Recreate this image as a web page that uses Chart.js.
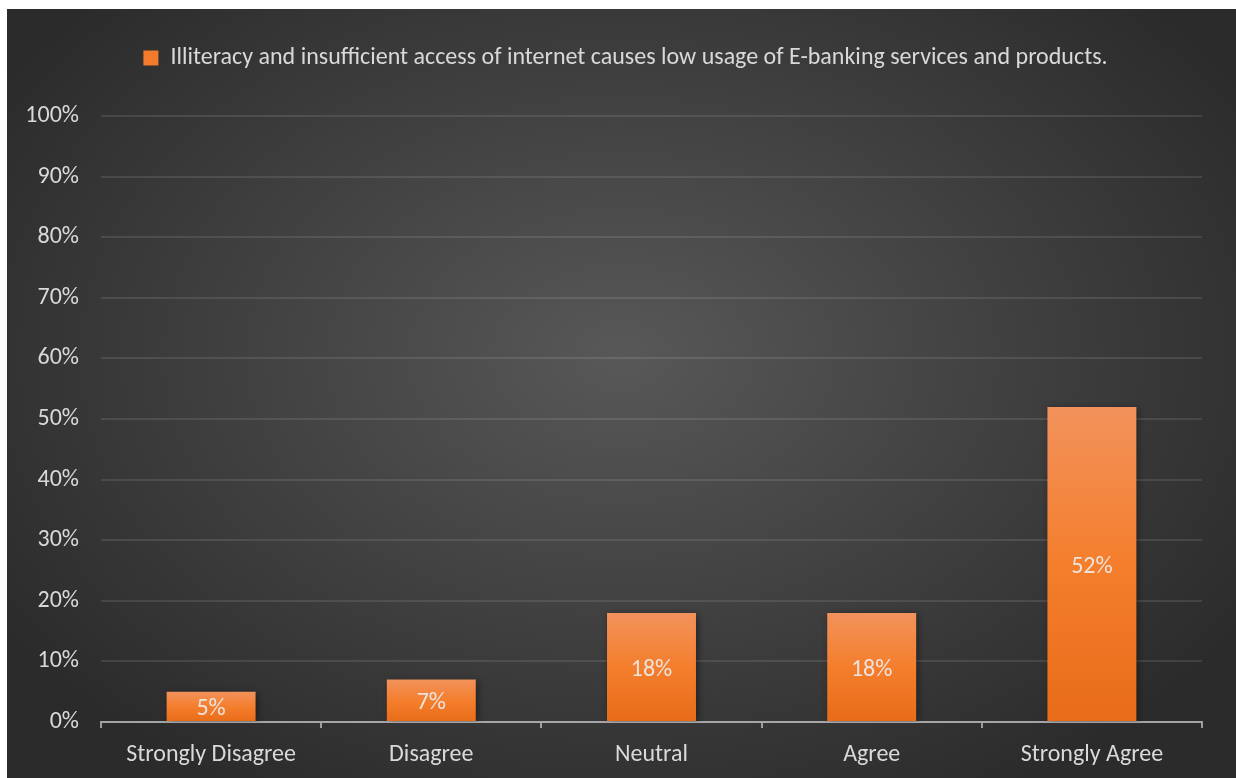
<!DOCTYPE html>
<html>
<head>
<meta charset="utf-8">
<script src="https://cdn.jsdelivr.net/npm/chart.js@4.4.0/dist/chart.umd.min.js"></script>
<style>
  html, body { margin: 0; padding: 0; background: #fff; }
  #caja {
    position: absolute; left: 7px; top: 9px; width: 1229px; height: 769px;
    background: radial-gradient(ellipse at 50% 45%, #585858 0%, #404040 45%, #2b2b2b 85%);
  }
</style>
</head>
<body>
<div id="caja"><canvas id="grafico"></canvas></div>
<script>
const categorias = ["Strongly Disagree", "Disagree", "Neutral", "Agree", "Strongly Agree"];
const valores = [5, 7, 18, 18, 52];
const serie = "Illiteracy and insufficient access of internet causes low usage of E-banking services and products.";

const fuente = "Carlito, Lato, 'Open Sans', sans-serif";
const gris = "#d9d9d9";

// degradado naranja por barra, claro arriba y oscuro abajo
function degradado(context) {
  const chart = context.chart;
  if (!chart.chartArea || context.type !== "data") return "#f27b2c";
  const y = chart.scales.y;
  const arriba = y.getPixelForValue(valores[context.dataIndex]);
  const abajo = y.getPixelForValue(0);
  const g = chart.ctx.createLinearGradient(0, arriba, 0, abajo);
  g.addColorStop(0, "#f2925c");
  g.addColorStop(0.5, "#f47e2c");
  g.addColorStop(1, "#e86c19");
  return g;
}

// sombra suave detras de las barras
const sombra = {
  id: "sombra",
  beforeDatasetDraw(chart) {
    const ctx = chart.ctx;
    ctx.save();
    ctx.shadowColor = "rgba(0,0,0,0.45)";
    ctx.shadowBlur = 7;
    ctx.shadowOffsetX = 2;
    ctx.shadowOffsetY = 1;
  },
  afterDatasetDraw(chart) {
    chart.ctx.restore();
  }
};

// porcentaje centrado dentro de cada barra
const etiquetas = {
  id: "etiquetas",
  afterDatasetsDraw(chart) {
    const ctx = chart.ctx;
    const meta = chart.getDatasetMeta(0);
    ctx.save();
    ctx.font = "24px " + fuente;
    ctx.fillStyle = "rgba(235,235,235,0.92)";
    ctx.textAlign = "center";
    ctx.textBaseline = "middle";
    meta.data.forEach((barra, i) => {
      ctx.fillText(valores[i] + "%", barra.x, (barra.y + barra.base) / 2 + 3);
    });
    ctx.restore();
  }
};

// leyenda: mas espacio debajo y un poco corrida a la derecha
const ajusteLeyenda = {
  id: "ajusteLeyenda",
  beforeInit(chart) {
    const fitOriginal = chart.legend.fit;
    chart.legend.fit = function () {
      fitOriginal.bind(chart.legend)();
      this.height += 36;
    };
  },
  afterLayout(chart) {
    chart.legend.left += 21;
    chart.legend.right += 21;
  }
};

new Chart(document.getElementById("grafico"), {
  type: "bar",
  data: {
    labels: categorias,
    datasets: [{
      label: serie,
      data: valores,
      backgroundColor: degradado,
      borderWidth: 0,
      categoryPercentage: 1,
      barPercentage: 0.404
    }]
  },
  options: {
    responsive: true,
    maintainAspectRatio: false,
    animation: false,
    layout: { padding: { top: 27, left: 0, right: 34, bottom: 0 } },
    plugins: {
      tooltip: { enabled: false },
      legend: {
        position: "top",
        labels: {
          color: gris,
          font: { family: fuente, size: 24 },
          boxWidth: 15,
          boxHeight: 15,
          padding: 10,
          generateLabels(chart) {
            return [{
              text: serie,
              fillStyle: "#f27b2c",
              strokeStyle: "#f27b2c",
              fontColor: gris,
              lineWidth: 0,
              datasetIndex: 0
            }];
          }
        }
      }
    },
    scales: {
      x: {
        z: 1,
        afterFit(scale) { scale.height = 56; },
        grid: {
          drawOnChartArea: false,
          drawTicks: true,
          tickLength: 6,
          color: "rgba(217,217,217,0.65)",
          lineWidth: 2
        },
        border: { color: "rgba(217,217,217,0.65)", width: 2 },
        ticks: {
          color: gris,
          font: { family: fuente, size: 24 },
          padding: 13,
          maxRotation: 0
        }
      },
      y: {
        min: 0,
        max: 100,
        afterFit(scale) { scale.width = 94; },
        grid: {
          drawTicks: false,
          color: "rgba(255,255,255,0.1)",
          lineWidth: 2
        },
        border: { display: false },
        ticks: {
          stepSize: 10,
          color: gris,
          font: { family: fuente, size: 24 },
          padding: 22,
          callback: v => v + "%"
        }
      }
    }
  },
  plugins: [sombra, etiquetas, ajusteLeyenda]
});
</script>
</body>
</html>
